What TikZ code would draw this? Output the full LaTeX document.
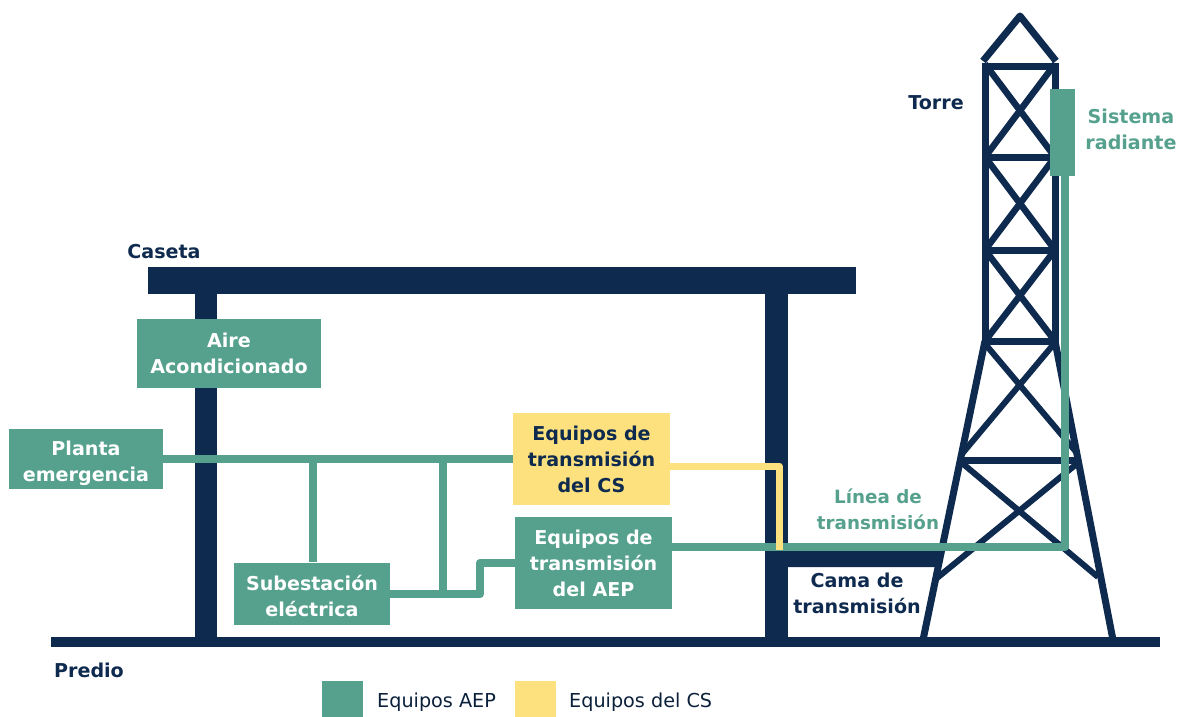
\documentclass[tikz,border=0pt]{standalone}
\usepackage{fontspec}
\setmainfont{DejaVu Sans}
\usetikzlibrary{calc}
\definecolor{navy}{HTML}{0E2A4F}
\definecolor{verde}{HTML}{55A18D}
\definecolor{amarillo}{HTML}{FDE17F}
\tikzset{
  x=1pt,y=-1pt,
  lbl/.style={inner sep=0pt,align=center,font=\fontsize{19.1}{26}\selectfont\bfseries},
  navylbl/.style={lbl,text=navy},
  verdelbl/.style={lbl,text=verde},
  eq/.style={lbl,inner sep=0pt,fill=verde,text=white,anchor=center},
  eqtxt/.style={lbl,text=white},
  eqcs/.style={lbl,inner sep=0pt,fill=amarillo,text=navy,anchor=center},
  wire/.style={draw=verde,line width=8.5pt,line join=round},
  wirey/.style={draw=amarillo,line width=7pt,line join=round},
  torre/.style={draw=navy,line width=7pt,line cap=round},
  solid navy/.style={fill=navy,draw=none},
  leg/.style={inner sep=0pt,minimum width=41pt,minimum height=36pt},
  legt/.style={inner sep=0pt,anchor=west,text=navy!75!black,font=\fontsize{19.2}{22}\selectfont},
}
\begin{document}
\begin{tikzpicture}
\useasboundingbox (0,0) rectangle (1181,717);
% caseta
\fill[solid navy] (148,267) rectangle (856,294);
\fill[solid navy] (195,294) rectangle (217,640);
\fill[solid navy] (765,294) rectangle (788,640);
\fill[solid navy] (51,637) rectangle (1160,647);
\fill[solid navy] (788,551) -- (943,551) -- (936,567) -- (788,567) -- cycle;
% torre
\coordinate (apex) at (1020,16);
\coordinate (al) at (983,61);
\coordinate (ar) at (1056,61);
\coordinate (tl) at (985,64);
\coordinate (tr) at (1055,64);
\coordinate (m1l) at (985,157);
\coordinate (m1r) at (1055,157);
\coordinate (m2l) at (985,250);
\coordinate (m2r) at (1055,250);
\coordinate (m3l) at (985,341);
\coordinate (m3r) at (1055,341);
\coordinate (fl) at (923,640);
\coordinate (fr) at (1113,640);
\coordinate (cl) at (959,460);
\coordinate (cr) at (1079,460);
\draw[torre,line cap=butt,line join=round] (al) -- (apex) -- (ar);
\draw[torre,line cap=butt] (981.5,67) -- (1058.5,67);
\draw[torre,line cap=butt] (tl) -- (m3l);
\draw[torre,line cap=butt] (tr) -- (m3r);
\draw[torre,line cap=butt] (m1l) -- (m1r) (m2l) -- (m2r) (981.5,341) -- (1058.5,341);
\draw[torre,line cap=butt,line width=6.5pt] (tl) -- (m1r) (tr) -- (m1l);
\draw[torre,line cap=butt,line width=6.5pt] (m1l) -- (m2r) (m1r) -- (m2l);
\draw[torre,line cap=butt,line width=6.5pt] (m2l) -- (m3r) (m2r) -- (m3l);
\draw[torre,line cap=butt] (m3l) -- (fl) (m3r) -- (fr);
\draw[torre,line cap=butt] (cl) -- (cr);
\draw[torre,line cap=butt,line width=6pt] (986,345) -- (1077,453) (1053,345) -- (961,455);
\draw[torre,line cap=butt,line width=6pt] (962,463) -- (1098,577) (1079,462) -- (937,578);
% cajas
\node[eq,minimum width=184pt,minimum height=69pt] (aire) at (229,353.5) {Aire\\Acondicionado};
\node[eq,minimum width=154pt,minimum height=60pt] (planta) at (86,459) {};
\node[eqtxt] (plantatxt) at (86,463) {Planta\\emergencia};
\node[eqcs,minimum width=157pt,minimum height=92pt] (cs) at (591.5,459) {Equipos de\\transmisión\\del CS};
\node[eq,minimum width=157pt,minimum height=92pt] (aep) at (593.5,563) {Equipos de\\transmisión\\del AEP};
\node[eq,minimum width=156pt,minimum height=62pt] (sub) at (312,593.5) {};
\node[eqtxt] (subtxt) at (312,595.5) {Subestación\\eléctrica};
\node[eq,minimum width=25pt,minimum height=87pt] (rad) at (1062.5,132.5) {};
% conexiones
\coordinate (j1) at (313,459);
\coordinate (j2) at (443,459);
\coordinate (j3) at (443,594);
\coordinate (b1) at (480,594);
\coordinate (b2) at (480,563);
\coordinate (corner) at (1065,547);
\coordinate (yb) at (779,466);
\coordinate (yc) at (779,550);
\draw[wire] (planta.east) -- (cs.west);
\draw[wire] (j1) -- (j1 |- sub.north);
\draw[wire] (j2) -- (j3);
\draw[wire] (sub.east |- b1) -- (b1) -- (b2) -- (aep.west |- b2);
\draw[wire] (aep.east |- corner) -- (corner) -- (corner |- rad.south);
\draw[wirey] (cs.east |- yb) -- (yb) -- (yc);
% textos
\node[navylbl] (caseta) at (164,252) {Caseta};
\node[navylbl] (torretxt) at (936,103) {Torre};
\node[navylbl] (predio) at (89,670) {Predio};
\node[navylbl] (cama) at (857,593) {Cama de\\transmisión};
\node[verdelbl] (rtxt) at (1131,129) {Sistema\\radiante};
\node[verdelbl,font=\fontsize{18.3}{26}\selectfont\bfseries] (ltxt) at (878,509) {Línea de\\transmisión};
% leyenda
\node[leg,fill=verde] (lg1) at (342.5,699) {};
\node[leg,fill=amarillo] (lg2) at (535.5,699) {};
\node[legt] (lt1) at (377,702) {Equipos AEP};
\node[legt] (lt2) at (569,702) {Equipos del CS};
\end{tikzpicture}
\end{document}
